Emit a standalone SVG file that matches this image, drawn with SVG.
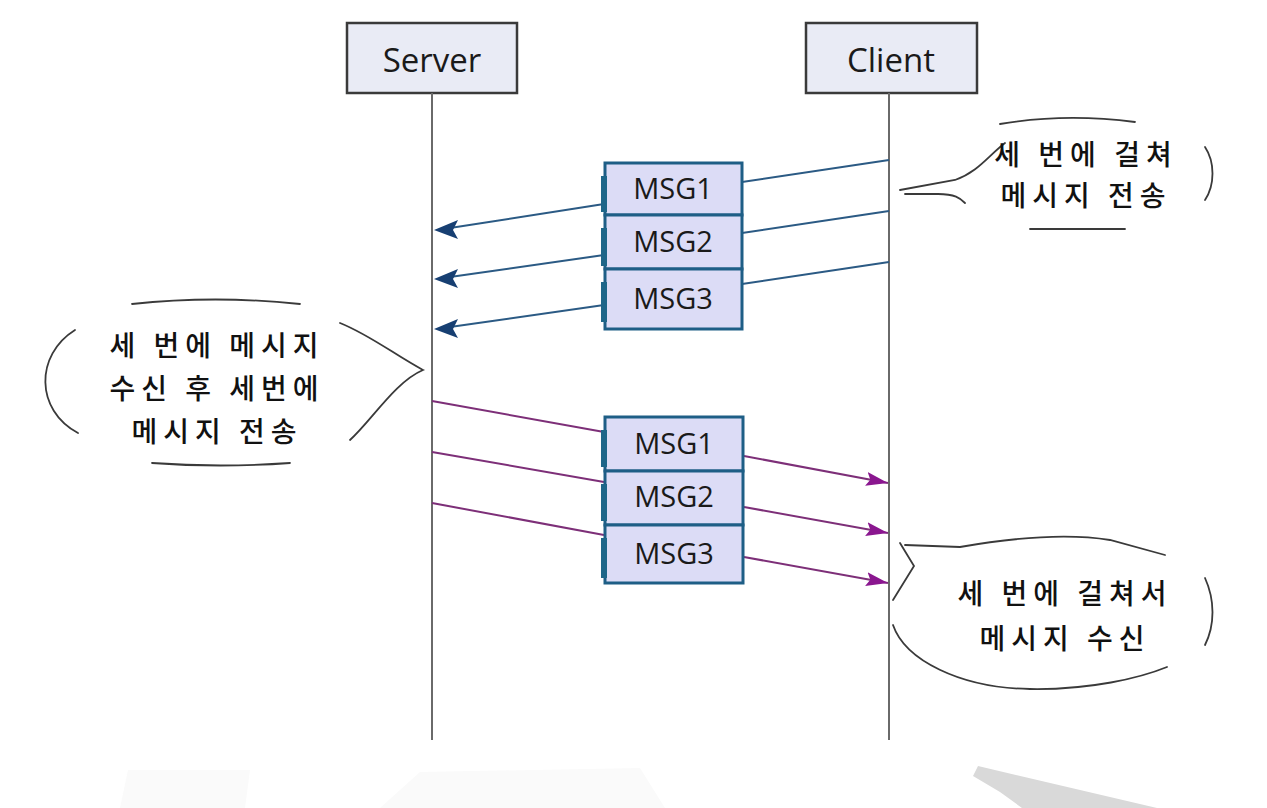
<svg xmlns="http://www.w3.org/2000/svg" width="1267" height="808" viewBox="0 0 1267 808">
<style>
.actor{fill:#e9ebf5;stroke:#3a3a3a;stroke-width:2.5}
.actorTxt{font-family:"Open Sans","Liberation Sans",sans-serif;font-size:33px;fill:#1a1a1a;text-anchor:middle}
.life{stroke:#6a6a6a;stroke-width:2;fill:none}
.msg{fill:#dcdcf6;stroke:#1e5e86;stroke-width:3}
.bar{fill:#1e6689}
.msgTxt{font-family:"Open Sans","Liberation Sans",sans-serif;font-size:29px;fill:#1a1a1a;text-anchor:middle}
.sendL{stroke:#2b5a84;stroke-width:2;fill:none}
.sendR{stroke:#7d2f78;stroke-width:2;fill:none}
.bub{fill:none;stroke:#3a3a3a;stroke-width:1.8;stroke-linecap:round}
.note{font-family:"Noto Sans CJK KR","Noto Sans",sans-serif;font-size:28px;font-weight:500;letter-spacing:6px;fill:#111;text-anchor:middle}
</style>
<defs>
<marker id="aPurp" markerWidth="22" markerHeight="14" refX="22" refY="7" orient="auto" markerUnits="userSpaceOnUse" viewBox="0 0 22 14">
<path d="M0,0 L22,7 L0,14 L4,7 Z" fill="#8a168f"/>
</marker>
</defs>
<rect width="1267" height="808" fill="#ffffff"/>
<g id="background">
<polygon points="380,808 420,772 640,768 665,808" fill="#fafafa"/>
<polygon points="120,808 128,770 250,770 245,808" fill="#fafafa"/>
<path d="M978,766 L1157,808 L1022,808 L1000,792 L973,776 Z" fill="#d9d9d9"/>
</g>
<g id="server">
<rect class="actor" x="347" y="23" width="170" height="70"/>
<text class="actorTxt" x="432" y="72">Server</text>
<line class="life" x1="432" y1="93" x2="432" y2="740"/>
</g>
<g id="client">
<rect class="actor" x="806" y="23" width="171" height="70"/>
<text class="actorTxt" x="891" y="72">Client</text>
<line class="life" x1="889" y1="93" x2="889" y2="740"/>
</g>
<g id="connectors">
<line class="sendL" x1="889" y1="160" x2="742" y2="182"/>
<line class="sendL" x1="604" y1="204" x2="450" y2="228"/>
<line class="sendL" x1="889" y1="211" x2="742" y2="233"/>
<line class="sendL" x1="604" y1="255" x2="450" y2="277"/>
<line class="sendL" x1="889" y1="262" x2="742" y2="284"/>
<line class="sendL" x1="604" y1="305" x2="450" y2="327"/>
<path d="M434,230 L458,220 L453,230 L458,239 Z" fill="#173f72"/>
<path d="M434,279 L458,269 L453,279 L458,288 Z" fill="#173f72"/>
<path d="M434,329 L458,319 L453,329 L458,338 Z" fill="#173f72"/>
<line class="sendR" x1="432" y1="401" x2="604" y2="432"/>
<line class="sendR" x1="744" y1="456" x2="888" y2="483" marker-end="url(#aPurp)"/>
<line class="sendR" x1="432" y1="452" x2="604" y2="482"/>
<line class="sendR" x1="744" y1="507" x2="888" y2="533" marker-end="url(#aPurp)"/>
<line class="sendR" x1="432" y1="503" x2="604" y2="535"/>
<line class="sendR" x1="744" y1="557" x2="888" y2="583" marker-end="url(#aPurp)"/>
</g>
<g id="msgTop1"><rect class="msg" x="605" y="163" width="137" height="52"/><rect class="bar" x="601" y="176" width="6" height="36"/><text class="msgTxt" x="673" y="199">MSG1</text></g>
<g id="msgTop2"><rect class="msg" x="605" y="215" width="137" height="54"/><rect class="bar" x="601" y="228" width="6" height="38"/><text class="msgTxt" x="673" y="252">MSG2</text></g>
<g id="msgTop3"><rect class="msg" x="605" y="269" width="137" height="60"/><rect class="bar" x="601" y="282" width="6" height="40"/><text class="msgTxt" x="673" y="309">MSG3</text></g>
<g id="msgBot1"><rect class="msg" x="605" y="417" width="138" height="54"/><rect class="bar" x="601" y="430" width="6" height="37"/><text class="msgTxt" x="674" y="454">MSG1</text></g>
<g id="msgBot2"><rect class="msg" x="605" y="471" width="138" height="54"/><rect class="bar" x="601" y="484" width="6" height="37"/><text class="msgTxt" x="674" y="507">MSG2</text></g>
<g id="msgBot3"><rect class="msg" x="605" y="525" width="138" height="58"/><rect class="bar" x="601" y="538" width="6" height="40"/><text class="msgTxt" x="674" y="564">MSG3</text></g>
<g id="noteClientSend">
<path class="bub" d="M1000,124 Q1065,113 1135,122"/>
<path class="bub" d="M1005,143 C988,156 978,172 955,180 L900,190"/>
<path class="bub" d="M905,194 L938,194 C955,194 960,198 965,203"/>
<path class="bub" d="M1205,147 C1215,162 1215,185 1205,200"/>
<path class="bub" d="M1030,229 L1125,229"/>
<text class="note" x="1086" y="165">세 번에 걸쳐</text>
<text class="note" x="1086" y="206">메시지 전송</text>
</g>
<g id="noteServer">
<path class="bub" d="M132,304 Q215,295 300,304"/>
<path class="bub" d="M75,330 C35,355 35,410 78,433"/>
<path class="bub" d="M340,323 C370,335 395,355 423,370 C395,382 372,420 350,440"/>
<path class="bub" d="M152,463 Q220,468 290,463"/>
<text class="note" x="217" y="356">세 번에 메시지</text>
<text class="note" x="217" y="399">수신 후 세번에</text>
<text class="note" x="217" y="442">메시지 전송</text>
</g>
<g id="noteClientRecv">
<path class="bub" d="M900,543 L914,566 L893,600"/>
<path class="bub" d="M905,545 L960,547 C1000,540 1060,532 1110,540 L1165,555"/>
<path class="bub" d="M893,625 C905,660 960,688 1030,689 C1090,690 1140,678 1167,667"/>
<path class="bub" d="M1205,578 C1215,600 1215,625 1205,645"/>
<text class="note" x="1065" y="604">세 번에 걸쳐서</text>
<text class="note" x="1065" y="649">메시지 수신</text>
</g>
</svg>
